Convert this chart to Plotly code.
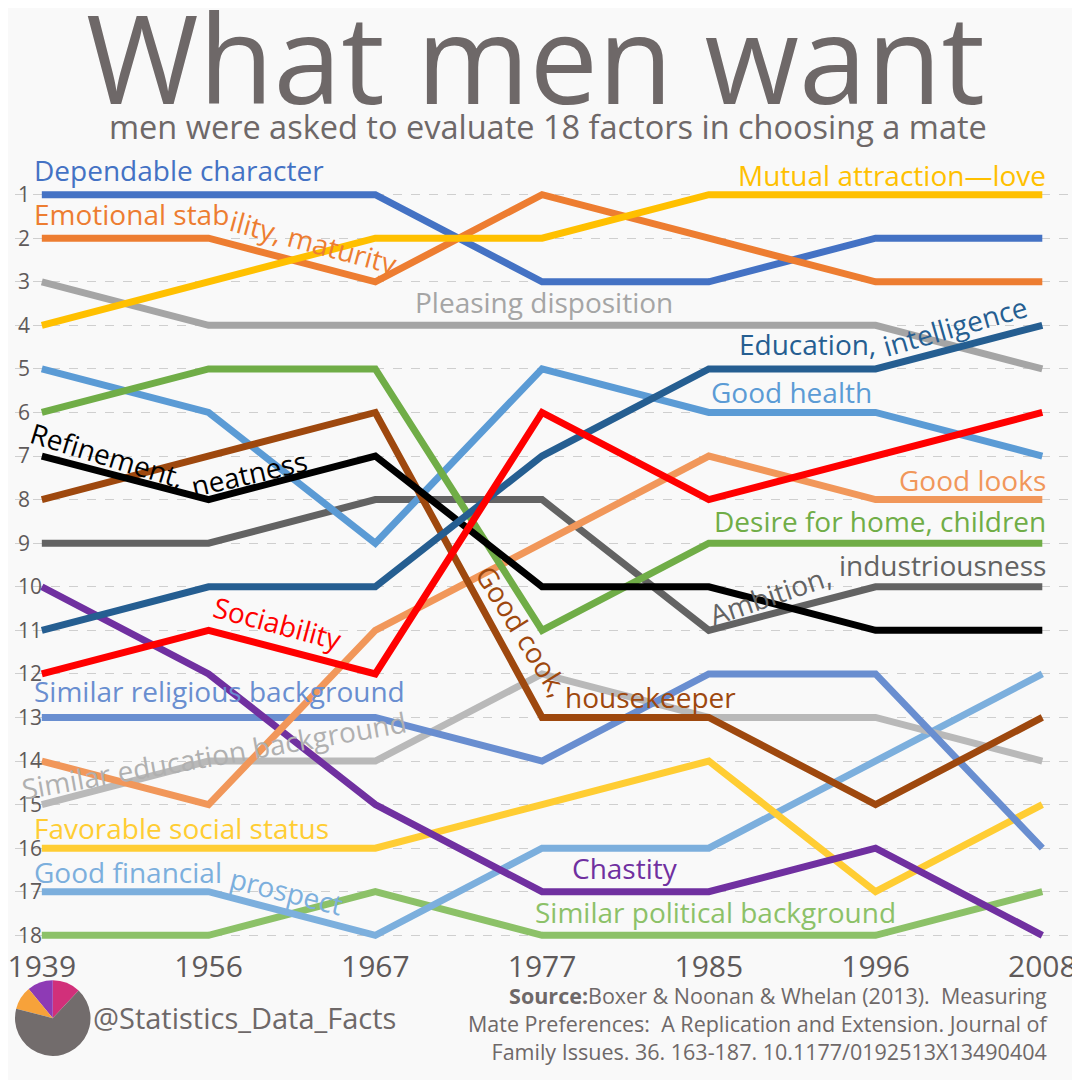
import plotly.graph_objects as go

W = 1080
H = 1080
OFF = 8  # the page puts the figure 8px in from the top-left corner

years = ["1939", "1956", "1967", "1977", "1985", "1996", "2008"]

dependable_character = [1, 1, 1, 3, 3, 2, 2]
emotional_stability = [2, 2, 3, 1, 2, 3, 3]
mutual_attraction = [4, 3, 2, 2, 1, 1, 1]
pleasing_disposition = [3, 4, 4, 4, 4, 4, 5]
education_intelligence = [11, 10, 10, 7, 5, 5, 4]
good_health = [5, 6, 9, 5, 6, 6, 7]
good_looks = [14, 15, 11, 9, 7, 8, 8]
desire_home_children = [6, 5, 5, 11, 9, 9, 9]
sociability = [12, 11, 12, 6, 8, 7, 6]
refinement_neatness = [7, 8, 7, 10, 10, 11, 11]
ambition_industriousness = [9, 9, 8, 8, 11, 10, 10]
good_cook_housekeeper = [8, 7, 6, 13, 13, 15, 13]
chastity = [10, 12, 15, 17, 17, 16, 18]
similar_religious = [13, 13, 13, 14, 12, 12, 16]
similar_education = [15, 14, 14, 12, 13, 13, 14]
favorable_social_status = [16, 16, 16, 15, 14, 17, 15]
good_financial_prospect = [17, 17, 18, 16, 16, 14, 12]
similar_political = [18, 18, 17, 18, 18, 18, 17]

rank_ticks = list(range(1, 19))

# name, values, line colour (drawn bottom to top)
series = [
    ("Similar political background", similar_political, "#8CC168"),
    ("Good financial prospect", good_financial_prospect, "#7CAFDD"),
    ("Favorable social status", favorable_social_status, "#FFCD33"),
    ("Similar education background", similar_education, "#B9B9B9"),
    ("Similar religious background", similar_religious, "#698ED0"),
    ("Chastity", chastity, "#7030A0"),
    ("Pleasing disposition", pleasing_disposition, "#A5A5A5"),
    ("Ambition, industriousness", ambition_industriousness, "#636363"),
    ("Good looks", good_looks, "#F1975A"),
    ("Good health", good_health, "#5B9BD5"),
    ("Desire for home, children", desire_home_children, "#70AD47"),
    ("Good cook, housekeeper", good_cook_housekeeper, "#9E480E"),
    ("Refinement, neatness", refinement_neatness, "#000000"),
    ("Education, intelligence", education_intelligence, "#255E91"),
    ("Sociability", sociability, "#FF0000"),
    ("Dependable character", dependable_character, "#4472C4"),
    ("Emotional stability, maturity", emotional_stability, "#ED7D31"),
    ("Mutual attraction—love", mutual_attraction, "#FFC000"),
]

FONT = "Open Sans"
TEXT_GREY = "#6E6868"


# screen pixel -> paper fraction
def px(x):
    return (x - OFF) / W


def py(y):
    return 1 - (y - OFF) / H


fig = go.Figure()

for name, vals, col in series:
    fig.add_trace(go.Scatter(
        x=years, y=vals, mode="lines", name=name,
        line=dict(color=col, width=7), hoverinfo="name+y",
    ))

# little logo as a pie
fig.add_trace(go.Pie(
    values=[12, 11, 10, 67],
    marker=dict(colors=["#D1307A", "#8E3AB5", "#F7A23A", "#726C6C"], line=dict(width=0)),
    domain=dict(x=[px(8), px(84)], y=[py(1058), py(982)]),
    sort=False, direction="counterclockwise", rotation=0,
    textinfo="none", hoverinfo="skip", showlegend=False,
))

# series labels: text, x, y, colour, anchor, angle
labels = [
    ("Dependable character", 25, 170, "#4472C4", "left", 0),
    ("Mutual attraction—love", 1048, 175, "#FFC000", "right", 0),
    ("Emotional stab", 25, 214, "#ED7D31", "left", 0),
    ("ility, maturity", 309, 242, "#ED7D31", "center", 15),
    ("Pleasing disposition", 540, 303, "#A5A5A5", "center", 0),
    ("Education,", 806, 345, "#255E91", "center", 0),
    ("intelligence", 954, 327, "#255E91", "center", -16),
    ("Good health", 790, 393, "#5B9BD5", "center", 0),
    ("Good looks", 1048, 481, "#F1975A", "right", 0),
    ("Desire for home, children", 1048, 522, "#70AD47", "right", 0),
    ("Ambition,", 768, 596, "#636363", "center", -19),
    ("industriousness", 1048, 566, "#636363", "right", 0),
    ("Refinement,", 101, 456, "#000000", "center", 17),
    ("neatness", 244, 474, "#000000", "center", -13),
    ("Sociability", 273, 624, "#FF0000", "center", 15),
    ("Good cook,", 519, 632, "#9E480E", "center", 58),
    ("housekeeper", 560, 698, "#9E480E", "left", 0),
    ("Similar religious background", 25, 692, "#698ED0", "left", 0),
    ("Similar education background", 208, 756, "#B0B0B0", "center", -10),
    ("Favorable social status", 25, 830, "#FFCD33", "left", 0),
    ("Good financial", 25, 874, "#7CAFDD", "left", 0),
    ("prospect", 281, 893, "#7CAFDD", "center", 14),
    ("Chastity", 622, 870, "#7030A0", "center", 0),
    ("Similar political background", 713, 914, "#8CC168", "center", 0),
]

annotations = []
for txt, x, y, col, anchor, ang in labels:
    annotations.append(dict(
        text=txt, x=px(x), y=py(y), xref="paper", yref="paper",
        xanchor=anchor, yanchor="middle", textangle=ang, showarrow=False,
        font=dict(family=FONT, size=28, color=col),
    ))

annotations += [
    dict(text="What men want", x=px(532), y=py(57), xref="paper", yref="paper",
         xanchor="center", yanchor="middle", showarrow=False,
         font=dict(family=FONT, size=122, color=TEXT_GREY)),
    dict(text="men were asked to evaluate 18 factors in choosing a mate",
         x=px(544), y=py(127), xref="paper", yref="paper",
         xanchor="center", yanchor="middle", showarrow=False,
         font=dict(family=FONT, size=32.5, color=TEXT_GREY)),
    dict(text="@Statistics_Data_Facts", x=px(84), y=py(1019), xref="paper", yref="paper",
         xanchor="left", yanchor="middle", showarrow=False,
         font=dict(family=FONT, size=29, color=TEXT_GREY)),
    dict(text="<b>Source:</b>Boxer & Noonan & Whelan (2013).  Measuring<br>"
              "Mate Preferences:  A Replication and Extension. Journal of<br>"
              "Family Issues. 36. 163-187. 10.1177/0192513X13490404",
         x=px(1051), y=py(1025), xref="paper", yref="paper",
         xanchor="right", yanchor="middle", align="right", showarrow=False,
         font=dict(family=FONT, size=21.5, color=TEXT_GREY)),
]

# axis scales from the reference: 1939 at x=35, 2008 at x=1042; rank 1 at y=195, rank 18 at y=937
x_step = (1042 - 35) / 6
x_lo = -(35 - OFF) / x_step
x_hi = x_lo + W / x_step
rank1_y, rank18_y = 195, 937
y_step = (rank18_y - rank1_y) / 17
plot_top, plot_bottom = 150, 948
y_top = 1 - (rank1_y - plot_top) / y_step
y_bottom = 18 + (plot_bottom - rank18_y) / y_step

fig.update_layout(
    width=W, height=H,
    margin=dict(l=0, r=0, t=0, b=0),
    paper_bgcolor="#F9F9F9",
    plot_bgcolor="#F9F9F9",
    showlegend=False,
    font=dict(family=FONT, color=TEXT_GREY),
    annotations=annotations,
    xaxis=dict(
        type="category", range=[x_lo, x_hi], domain=[0, 1],
        showgrid=False, zeroline=False, showline=False, ticks="",
        ticklabeloverflow="allow",
        tickfont=dict(family=FONT, size=30, color="#5F5A5A"),
    ),
    yaxis=dict(
        range=[y_bottom, y_top], domain=[py(plot_bottom), py(plot_top)],
        tickvals=rank_ticks, ticklabelposition="inside",
        ticklabeloverflow="allow",
        showgrid=True, gridcolor="#CFCFCF", griddash="dash", gridwidth=1,
        zeroline=False, showline=False, ticks="",
        tickfont=dict(family=FONT, size=21, color="#5F5A5A"),
    ),
)

fig.write_html("out.html")
